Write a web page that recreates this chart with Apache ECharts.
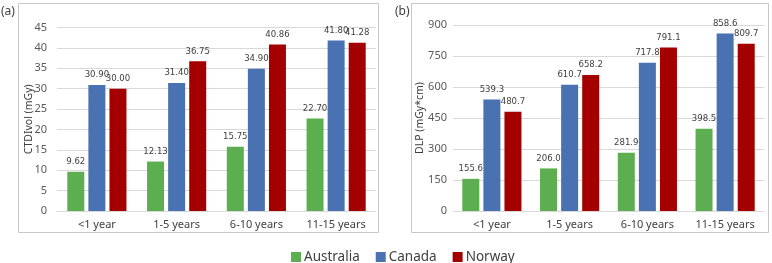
<!DOCTYPE html>
<html>
<head>
<meta charset="utf-8">
<title>CTDIvol / DLP</title>
<script src="https://cdn.jsdelivr.net/npm/echarts@6/dist/echarts.min.js"></script>
<style>
  html, body { margin: 0; padding: 0; background: #fff; }
  #main { width: 772px; height: 263px; }
</style>
</head>
<body>
<div id="main"></div>
<script type="text/javascript">
// age groups
var categories = ['<1 year', '1-5 years', '6-10 years', '11-15 years'];

// (a) CTDIvol, mGy
var ctdiAustralia = [9.62, 12.13, 15.75, 22.70];
var ctdiCanada    = [30.90, 31.40, 34.90, 41.80];
var ctdiNorway    = [30.00, 36.75, 40.86, 41.28];

// (b) DLP, mGy*cm
var dlpAustralia = [155.6, 206.0, 281.9, 398.5];
var dlpCanada    = [539.3, 610.7, 717.8, 858.6];
var dlpNorway    = [480.7, 658.2, 791.1, 809.7];

var colors = ['#5cae51', '#4a71b1', '#a50000'];
var font = 'Noto Sans';
var narrow = "'Liberation Sans Narrow', 'DejaVu Sans Condensed', sans-serif";

var myChart = echarts.init(document.getElementById('main'));

function bar(name, data, idx, digits) {
    return {
        name: name,
        type: 'bar',
        xAxisIndex: idx,
        yAxisIndex: idx,
        barWidth: 17,
        barGap: '24%',
        data: data,
        label: {
            show: true,
            position: 'top',
            distance: 5,
            fontSize: 9.5,
            fontFamily: narrow,
            color: '#404040',
            formatter: function (p) { return p.value.toFixed(digits); }
        }
    };
}

function yAx(idx, name, max, step, gap, margin) {
    return {
        gridIndex: idx,
        type: 'value',
        min: 0,
        max: max,
        interval: step,
        name: name,
        nameLocation: 'middle',
        nameGap: gap,
        nameMoveOverlap: false,
        nameTextStyle: { fontSize: 10.5, fontFamily: font, color: '#404040' },
        axisLine: { show: false },
        axisTick: { show: false },
        axisLabel: { fontSize: 11, fontFamily: font, color: '#595959', margin: margin },
        splitLine: { lineStyle: { color: '#d9d9d9' } }
    };
}

function xAx(idx) {
    return {
        gridIndex: idx,
        type: 'category',
        data: categories,
        axisLine: { lineStyle: { color: '#d9d9d9' } },
        axisTick: { show: false },
        axisLabel: { fontSize: 11, fontFamily: font, color: '#404040', margin: 8 }
    };
}

var option = {
    backgroundColor: '#fff',
    color: colors,
    animation: false,
    textStyle: { fontFamily: font },
    graphic: [
        { type: 'rect', shape: { x: 18.5, y: 3.5, width: 360, height: 229 },
          style: { fill: 'none', stroke: '#c8c8c8', lineWidth: 1 } },
        { type: 'rect', shape: { x: 411.5, y: 3.5, width: 357, height: 229 },
          style: { fill: 'none', stroke: '#c8c8c8', lineWidth: 1 } },
        { type: 'text', left: 1, top: 6,
          style: { text: '(a)', fontSize: 12, fontFamily: font, fill: '#404040' } },
        { type: 'text', left: 395, top: 6,
          style: { text: '(b)', fontSize: 12, fontFamily: font, fill: '#404040' } }
    ],
    legend: {
        data: ['Australia', 'Canada', 'Norway'],
        left: 286,
        top: 245,
        icon: 'rect',
        itemWidth: 10,
        itemHeight: 10,
        itemGap: 16,
        textStyle: { fontSize: 13.5, fontFamily: font, color: '#404040', padding: [0, 0, 0, -2] }
    },
    grid: [
        { left: 57, right: 396, top: 27.5, bottom: 52 },
        { left: 453, right: 8, top: 25, bottom: 52 }
    ],
    xAxis: [xAx(0), xAx(1)],
    yAxis: [
        yAx(0, 'CTDIvol (mGy)', 45, 5, 22, 10),
        yAx(1, 'DLP (mGy*cm)', 900, 150, 27, 6)
    ],
    series: [
        bar('Australia', ctdiAustralia, 0, 2),
        bar('Canada', ctdiCanada, 0, 2),
        bar('Norway', ctdiNorway, 0, 2),
        bar('Australia', dlpAustralia, 1, 1),
        bar('Canada', dlpCanada, 1, 1),
        bar('Norway', dlpNorway, 1, 1)
    ]
};

myChart.setOption(option);
window.addEventListener('resize', function () { myChart.resize(); });
</script>
</body>
</html>
